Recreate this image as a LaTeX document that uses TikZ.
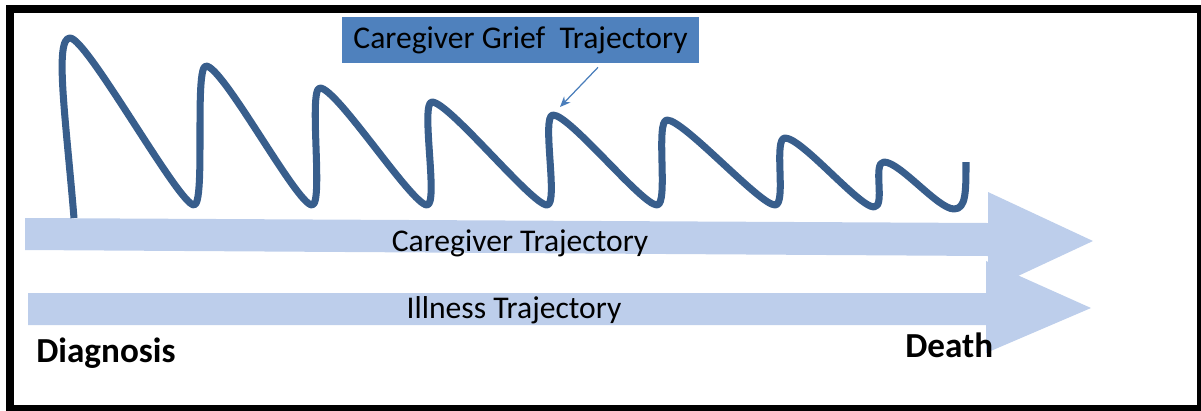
\documentclass[tikz,border=0pt]{standalone}
\usepackage{fontspec}
\setmainfont{Carlito}
\usetikzlibrary{arrows.meta,positioning,calc}
\definecolor{trackblue}{RGB}{189,206,235}
\definecolor{griefblue}{RGB}{56,94,140}
\definecolor{boxblue}{RGB}{79,129,189}
\definecolor{pointblue}{RGB}{74,126,187}
\tikzstyle{track}=[fill=trackblue, draw=none]
\tikzstyle{tracklabel}=[font=\fontsize{18}{21}\selectfont, inner sep=0pt]
\tikzstyle{endlabel}=[font=\fontsize{20}{23}\selectfont\bfseries, inner sep=0pt, anchor=base west]
\tikzstyle{griefline}=[draw=griefblue, line width=4pt, line join=round]
\tikzstyle{callout}=[fill=boxblue, minimum width=7.14cm, minimum height=0.92cm, inner sep=0pt, font=\fontsize{18}{21}\selectfont]
\tikzstyle{pointer}=[draw=pointblue, line width=0.7pt, -{Stealth[length=6pt,width=5pt]}]

\begin{document}
\begin{tikzpicture}[x=0.02cm, y=-0.02cm]
  \useasboundingbox (0,0) rectangle (1201,410);
  \draw[line width=0.16cm] (10,9) rectangle (1201,409);

  % the two time lines
  \fill[track] (25,218) -- (988,223) -- (988,192) -- (1093,241) -- (988,290) -- (988,256) -- (25,250) -- cycle;
  \fill[track] (28,293) -- (986,293) -- (986,261) -- (1091,308) -- (986,353) -- (986,325) -- (28,325) -- cycle;
  \node[tracklabel] (caregiver) at (520,243) {Caregiver Trajectory};
  \node[tracklabel] (illness) at (514,310) {Illness Trajectory};
  \node[endlabel] (diagnosis) at (36,362) {Diagnosis};
  \node[endlabel] (death) at (905,357) {Death};

  % grief wave: peak (ax,ay), trough (bx,by), next peak (nx,ny)
  \draw[griefline] (74,218) .. controls (66,120) and (54,38) .. (70,38)
    foreach \ax/\ay/\bx/\by/\nx/\ny in {70/38/194/205/206/66, 206/66/312/205/320/88,
      320/88/427/205/432/102, 432/102/547/205/553/115, 553/115/657/205/667/120,
      667/120/775/205/785/138, 785/138/874/207/884/162}
    { .. controls (\ax+17,\ay) and (\bx-15,\by) .. (\bx,\by)
      .. controls (\bx+12,\by) and (\nx-12,\ny) .. (\nx,\ny) }
    .. controls (900,162) and (938,209) .. (954,209)
    .. controls (966,209) and (966,192) .. (966,162);
  \coordinate (griefpt) at (560,107);

  \node[callout] (grief) at (520.5,40) {Caregiver Grief\ \ Trajectory};
  \draw[pointer] ([xshift=1.55cm,yshift=-0.08cm]grief.south) -- (griefpt);
\end{tikzpicture}
\end{document}
